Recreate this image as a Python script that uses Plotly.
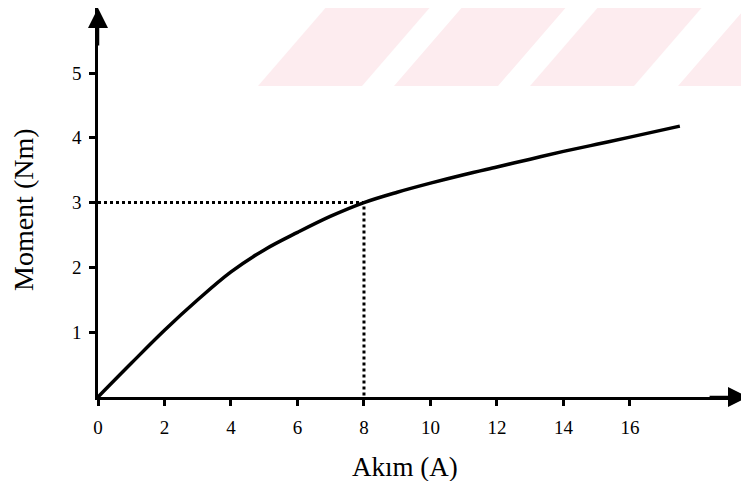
import plotly.graph_objects as go

# Data
current_a = [0, 1, 2, 3, 4, 5, 6, 7, 8, 9, 10, 11, 12, 13, 14, 15, 16, 17.5]
moment_nm = [0, 0.52, 1.03, 1.5, 1.93, 2.27, 2.54, 2.79, 3.0, 3.16, 3.3, 3.43, 3.55, 3.67, 3.79, 3.9, 4.01, 4.18]

ref_x = [0, 8, 8]
ref_y = [3, 3, 0]

x_ticks = [0, 2, 4, 6, 8, 10, 12, 14, 16]
y_ticks = [1, 2, 3, 4, 5]

x_title = "Akım (A)"
y_title = "Moment (Nm)"

FONT = "Liberation Serif"
OFF = 8  # page body margin offset
W, H = 749 - OFF, 481 - OFF
L, R, T, B = 98 - OFF, 1, 0, 84
XMAX = 19.55
PH = H - T - B
YMAX = PH / 64.8

fig = go.Figure()
fig.add_trace(go.Scatter(x=ref_x, y=ref_y, mode="lines",
                         line=dict(color="black", width=3, dash="dot"),
                         hoverinfo="skip", showlegend=False))
fig.add_trace(go.Scatter(x=current_a, y=moment_nm, mode="lines",
                         line=dict(color="black", width=3.5, shape="spline", smoothing=1.0),
                         showlegend=False))

# faint watermark stripes (decorative background); page-pixel helpers
pw, ph = W - L - R, PH
def px(xp):
    return (xp - OFF - L) / pw
def py(yp):
    return (H - B - (yp - OFF)) / ph
for x0 in [258, 394, 530, 678]:
    path = (f"M {px(x0)},{py(86)} L {px(x0+104)},{py(86)} "
            f"L {px(x0+104+83)},{py(-10)} L {px(x0+83)},{py(-10)} Z")
    fig.add_shape(type="path", path=path, xref="paper", yref="paper",
                  fillcolor="rgb(253,236,239)", line=dict(width=0), layer="below")

# axis arrows
fig.add_annotation(x=XMAX, y=0, ax=XMAX - 1.2, ay=0, xref="x", yref="y", axref="x", ayref="y",
                   showarrow=True, arrowhead=2, arrowsize=1.6, arrowwidth=2.5, arrowcolor="black", text="")
fig.add_annotation(x=0, y=YMAX, ax=0, ay=YMAX - 0.6, xref="x", yref="y", axref="x", ayref="y",
                   showarrow=True, arrowhead=2, arrowsize=1.6, arrowwidth=2.5, arrowcolor="black", text="")

# axis titles
fig.add_annotation(text=x_title, xref="paper", yref="paper", x=px(405), y=0, yshift=-70,
                   xanchor="center", yanchor="middle", showarrow=False,
                   font=dict(family=FONT, size=27, color="black"))
fig.add_annotation(text=y_title, xref="paper", yref="paper", x=px(23), y=py(210),
                   xanchor="center", yanchor="middle", textangle=-90, showarrow=False,
                   font=dict(family=FONT, size=28, color="black"))

fig.update_xaxes(range=[0, XMAX], tickvals=x_ticks, ticktext=[str(v) for v in x_ticks],
                 showline=True, linecolor="black", linewidth=2.5, showgrid=False, zeroline=False,
                 ticks="outside", ticklen=6, tickwidth=2.5, tickcolor="black",
                 ticklabelstandoff=5, tickfont=dict(family=FONT, size=19, color="black"))
fig.update_yaxes(range=[0, YMAX], tickvals=y_ticks, ticktext=[str(v) for v in y_ticks],
                 showline=True, linecolor="black", linewidth=2.5, showgrid=False, zeroline=False,
                 ticks="outside", ticklen=6, tickwidth=2.5, tickcolor="black",
                 ticklabelstandoff=4, tickfont=dict(family=FONT, size=19, color="black"))

fig.update_layout(width=W, height=H, margin=dict(l=L, r=R, t=T, b=B),
                  plot_bgcolor="white", paper_bgcolor="white", showlegend=False)

fig.write_html("out.html")
